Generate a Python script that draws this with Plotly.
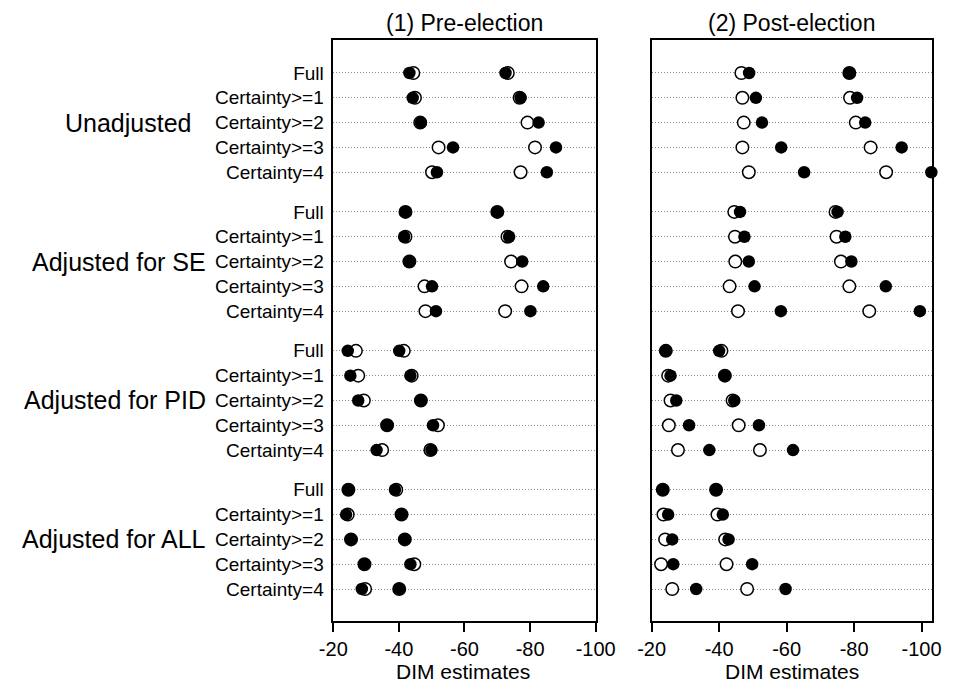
import plotly.graph_objects as go

groups = ["Unadjusted", "Adjusted for SE", "Adjusted for PID", "Adjusted for ALL"]
rows = ["Full", "Certainty>=1", "Certainty>=2", "Certainty>=3", "Certainty=4"]
x_ticks = [-20, -40, -60, -80, -100]
x_ticktext = ["-20", "-40", "-60", "-80", "-100"]

# (1) Pre-election: open / filled estimates, lower and upper pair (20 rows, group order)
pre_open_a = [-44.4, -44.9, -46.5, -52.1, -50.1,
              -42.0, -42.0, -43.2, -47.8, -48.1,
              -26.9, -27.6, -29.3, -36.4, -34.9,
              -24.6, -24.4, -25.4, -29.5, -29.7]
pre_fill_a = [-43.2, -44.2, -46.7, -56.5, -51.6,
              -42.0, -41.6, -43.2, -50.1, -51.3,
              -24.4, -25.2, -27.6, -36.4, -33.2,
              -24.6, -23.9, -25.4, -29.5, -28.7]
pre_open_b = [-73.2, -76.8, -79.2, -81.5, -77.1,
              -70.0, -73.1, -74.2, -77.4, -72.4,
              -41.5, -43.9, -46.7, -51.9, -49.6,
              -39.2, -40.8, -41.8, -44.7, -40.1]
pre_fill_b = [-72.5, -77.1, -82.6, -87.9, -85.1,
              -70.0, -73.6, -77.6, -84.0, -80.1,
              -40.1, -43.5, -46.7, -50.4, -49.9,
              -38.8, -40.8, -41.8, -43.5, -40.1]

# (2) Post-election
post_open_a = [-46.6, -46.9, -47.3, -46.9, -48.8,
               -44.5, -44.7, -44.8, -43.1, -45.6,
               -24.2, -24.9, -25.6, -25.1, -27.8,
               -23.3, -23.5, -24.0, -22.8, -26.1]
post_fill_a = [-48.9, -50.9, -52.7, -58.4, -65.2,
               -46.2, -47.5, -48.8, -50.5, -58.3,
               -24.2, -25.6, -27.3, -31.1, -37.1,
               -23.3, -24.9, -26.1, -26.4, -33.2]
post_open_b = [-78.6, -78.8, -80.5, -84.9, -89.5,
               -74.5, -74.8, -76.1, -78.6, -84.5,
               -40.7, -41.7, -44.0, -45.8, -52.1,
               -39.1, -39.5, -41.8, -42.2, -48.3]
post_fill_b = [-78.6, -80.9, -83.3, -94.1, -102.9,
               -75.1, -77.4, -79.2, -89.4, -99.5,
               -40.0, -41.7, -44.5, -51.8, -61.9,
               -39.1, -41.1, -42.8, -49.8, -59.7]

FONT = "Liberation Sans, Arial, Helvetica, sans-serif"
GROUP_STEP = 5.6
yvals = []
ylabels = []
for g in range(len(groups)):
    for r, lab in enumerate(rows):
        yvals.append(-(g * GROUP_STEP + r))
        ylabels.append(lab)

fig = go.Figure()

def add_panel(open_a, fill_a, open_b, fill_b, xa, ya):
    for vals in (open_a, open_b):
        fig.add_trace(go.Scatter(
            x=vals, y=yvals, mode="markers", xaxis=xa, yaxis=ya, showlegend=False,
            marker=dict(size=12.5, color="white", line=dict(color="black", width=1.5)),
            cliponaxis=False))
    for vals in (fill_a, fill_b):
        fig.add_trace(go.Scatter(
            x=vals, y=yvals, mode="markers", xaxis=xa, yaxis=ya, showlegend=False,
            marker=dict(size=12.5, color="black", line=dict(color="black", width=0)),
            cliponaxis=False))

add_panel(pre_open_a, pre_fill_a, pre_open_b, pre_fill_b, "x", "y")
add_panel(post_open_a, post_fill_a, post_open_b, post_fill_b, "x2", "y2")

W, H = 962, 685
TOP, BOT = 40, 621
ydom = [(H - BOT) / H, (H - TOP) / H]
yrange = [-(3 * GROUP_STEP + 4) - 1.29, 1.33]

common_x = dict(
    tickvals=x_ticks, ticktext=x_ticktext, ticks="outside", ticklen=9, tickwidth=1.5,
    tickcolor="black", showline=True, mirror=True, linecolor="black", linewidth=1.5,
    showgrid=False, zeroline=False, tickfont=dict(family=FONT, size=20, color="black"))
common_y = dict(
    tickvals=yvals, range=yrange, domain=ydom, showline=True, mirror=True,
    linecolor="black", linewidth=1.5, showgrid=True, gridcolor="#8a8a8a", griddash="1px,2px",
    gridwidth=1, zeroline=False, ticks="")

fig.update_layout(
    width=W, height=H, margin=dict(l=0, r=0, t=0, b=0),
    paper_bgcolor="white", plot_bgcolor="white",
    xaxis=dict(common_x, domain=[331 / W, 603 / W], range=[-20, -100], anchor="y"),
    xaxis2=dict(common_x, domain=[661 / W, 952 / W], range=[-20, -103.2], anchor="y2"),
    yaxis=dict(common_y, ticktext=ylabels, anchor="x", ticklabelstandoff=4,
               tickfont=dict(family=FONT, size=19, color="black")),
    yaxis2=dict(common_y, showticklabels=False, anchor="x2"),
)

ann = []
for txt, cx in (("(1) Pre-election", 467), ("(2) Post-election", 806)):
    ann.append(dict(text=txt, x=cx / W, y=1 - 23 / H, xref="paper", yref="paper",
                    xanchor="center", yanchor="middle", showarrow=False,
                    font=dict(family=FONT, size=23, color="black")))
for cx in (465, 806):
    ann.append(dict(text="DIM estimates", x=cx / W, y=1 - 671 / H, xref="paper", yref="paper",
                    xanchor="center", yanchor="middle", showarrow=False,
                    font=dict(family=FONT, size=21, color="black")))
right_edges = [186, 201, 201, 201]
for g, name in enumerate(groups):
    ann.append(dict(text=name, x=right_edges[g] / W, xanchor="right", yanchor="middle",
                    y=-(g * GROUP_STEP + 2), xref="paper", yref="y", showarrow=False,
                    font=dict(family=FONT, size=25, color="black")))
fig.update_layout(annotations=ann)

fig.write_html("out.html")
